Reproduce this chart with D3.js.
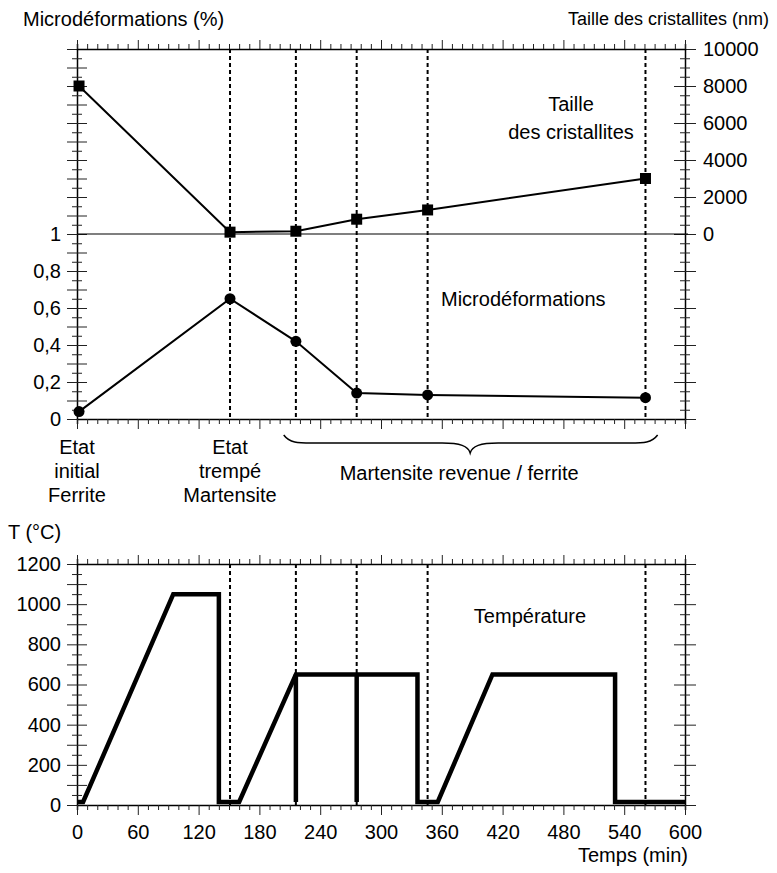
<!DOCTYPE html>
<html>
<head>
<meta charset="utf-8">
<script src="https://cdn.jsdelivr.net/npm/d3@7"></script>
<style>
  body { margin: 0; background: #fff; }
  text { font-family: "Liberation Sans", Arial, sans-serif; font-size: 20px; fill: #000; }
</style>
</head>
<body>
<div id="graph"></div>
<script>
// sample times (min) where the specimens were taken
const sampleTimes = [151, 216, 276, 346, 561]
const pointTimes = [2, 151, 216, 276, 346, 561]
const microStrain = [0.04, 0.65, 0.42, 0.14, 0.13, 0.115]
const crystalSize = [8000, 100, 150, 800, 1300, 3000]

// thermal cycle
const tempTimes = [0, 6, 95, 140, 140, 160, 216, 336, 336, 356, 410, 531, 531, 600]
const tempValues = [15, 15, 1050, 1050, 15, 15, 650, 650, 15, 15, 650, 650, 15, 15]
const tempBars = [216, 276]

const timeTicks = [0, 60, 120, 180, 240, 300, 360, 420, 480, 540, 600]
const microTicks = [0, 0.2, 0.4, 0.6, 0.8, 1]
const sizeTicks = [0, 2000, 4000, 6000, 8000, 10000]
const tempTicks = [0, 200, 400, 600, 800, 1000, 1200]

const stateInitial = ["Etat", "initial", "Ferrite"]
const stateQuenched = ["Etat", "trempé", "Martensite"]

const WIDTH = 777
const HEIGHT = 873

const svg = d3.select("#graph")
  .append("svg")
    .attr("width", WIDTH)
    .attr("height", HEIGHT)

const x = d3.scaleLinear().domain([0, 600]).range([77, 685])
const yMicro = d3.scaleLinear().domain([0, 2]).range([419, 49])
const ySize = d3.scaleLinear().domain([-10000, 10000]).range([419, 49])
const yTemp = d3.scaleLinear().domain([0, 1200]).range([805, 564])

const comma = (d) => String(+d.toFixed(2)).replace(".", ",")
const minor10 = d3.range(0, 61).map((i) => i * 10)

// styling shared by every axis
const styleAxis = (g) => {
  g.attr("color", "#222")
  g.select(".domain").attr("stroke", "#000").attr("stroke-width", 1.5)
  g.selectAll(".tick text").style("font-size", "20px").attr("fill", "#000")
}

// ---------- top panel ----------
const topPanel = svg.append("g")

// left axis: micro strain
topPanel.append("g")
    .attr("transform", `translate(${x(0)},0)`)
    .call(d3.axisLeft(yMicro)
      .tickValues(d3.range(0, 41).map((i) => i / 20))
      .tickFormat((d) => (microTicks.some((t) => Math.abs(t - d) < 1e-6) ? comma(d) : ""))
      .tickSize(0).tickSizeOuter(0).tickPadding(16))
    .call(styleAxis)
    .call((g) => g.selectAll(".tick line")
      .attr("x1", (d) => (Math.round(d * 20) % 2 === 0 ? -10 : -5))
      .attr("x2", (d) => (Math.round(d * 20) % 2 === 0 ? 10 : 5)))

// right axis: crystallite size
topPanel.append("g")
    .attr("transform", `translate(${x(600)},0)`)
    .call(d3.axisRight(ySize)
      .tickValues(d3.range(-20, 21).map((i) => i * 500))
      .tickFormat((d) => (sizeTicks.includes(d) ? d : ""))
      .tickSize(0).tickSizeOuter(0).tickPadding(18))
    .call(styleAxis)
    .call((g) => g.selectAll(".tick line")
      .attr("x1", (d) => (d % 2000 === 0 ? -11 : -5))
      .attr("x2", (d) => (d % 2000 === 0 ? 11 : 5)))

// time axes of the top panel (no labels)
topPanel.append("g")
    .attr("transform", `translate(0,${yMicro(0)})`)
    .call(d3.axisBottom(x).tickValues(minor10).tickFormat("").tickSizeOuter(0).tickSize(5))
    .call(styleAxis)
    .call((g) => g.selectAll(".tick line").attr("y2", (d) => (d % 60 === 0 ? 10 : 5)))

topPanel.append("g")
    .attr("transform", `translate(0,${yMicro(2)})`)
    .call(d3.axisTop(x).tickValues(minor10).tickFormat("").tickSizeOuter(0).tickSize(5))
    .call(styleAxis)
    .call((g) => g.selectAll(".tick line").attr("y2", (d) => (d % 60 === 0 ? -9 : -5)))

// separator line (1 on the left, 0 on the right)
topPanel.append("line")
    .attr("x1", x(0)).attr("x2", x(600) + 3)
    .attr("y1", yMicro(1)).attr("y2", yMicro(1))
    .attr("stroke", "#000").attr("stroke-width", 1.2)

topPanel.append("g")
    .selectAll("line")
    .data(sampleTimes)
    .join("line")
      .attr("x1", (d) => x(d)).attr("x2", (d) => x(d))
      .attr("y1", yMicro(2)).attr("y2", yMicro(0))
      .attr("stroke", "#000").attr("stroke-width", 2)
      .attr("stroke-dasharray", "4,3")

const sizeLine = d3.line().x((d, i) => x(pointTimes[i])).y((d) => ySize(d))
topPanel.append("path")
    .attr("d", sizeLine(crystalSize))
    .attr("fill", "none").attr("stroke", "#000").attr("stroke-width", 2)

topPanel.append("g")
    .selectAll("rect")
    .data(crystalSize)
    .join("rect")
      .attr("x", (d, i) => x(pointTimes[i]) - 5.5)
      .attr("y", (d) => ySize(d) - 5.5)
      .attr("width", 11).attr("height", 11)
      .attr("fill", "#000")

const microLine = d3.line().x((d, i) => x(pointTimes[i])).y((d) => yMicro(d))
topPanel.append("path")
    .attr("d", microLine(microStrain))
    .attr("fill", "none").attr("stroke", "#000").attr("stroke-width", 2)

topPanel.append("g")
    .selectAll("circle")
    .data(microStrain)
    .join("circle")
      .attr("cx", (d, i) => x(pointTimes[i]))
      .attr("cy", (d) => yMicro(d))
      .attr("r", 5.5)
      .attr("fill", "#000")

topPanel.append("text").attr("x", 23).attr("y", 26).text("Microdéformations (%)")
topPanel.append("text").attr("x", 769).attr("y", 25).attr("text-anchor", "end")
    .style("font-size", "18px").text("Taille des cristallites (nm)")
topPanel.append("text").attr("x", 571).attr("y", 111).attr("text-anchor", "middle").text("Taille")
topPanel.append("text").attr("x", 571).attr("y", 139).attr("text-anchor", "middle").text("des cristallites")
topPanel.append("text").attr("x", 441).attr("y", 306).text("Microdéformations")

// state labels under the top panel
const stateLabel = (lines, t) => {
  topPanel.append("g")
    .selectAll("text")
    .data(lines)
    .join("text")
      .attr("x", x(t))
      .attr("y", (d, i) => 454 + i * 24)
      .attr("text-anchor", "middle")
      .text((d) => d)
}
stateLabel(stateInitial, 0)
stateLabel(stateQuenched, sampleTimes[0])

// brace over the tempered samples
const bx0 = x(204), bxm = x(388), bx1 = x(573)
topPanel.append("path")
    .attr("d", `M${bx0},435 C${bx0 + 6},443 ${bx0 + 14},443 ${bx0 + 28},443 L${bxm - 28},443
      C${bxm - 10},443 ${bxm - 2},446 ${bxm},453 C${bxm + 2},446 ${bxm + 10},443 ${bxm + 28},443
      L${bx1 - 28},443 C${bx1 - 14},443 ${bx1 - 6},443 ${bx1},435`)
    .attr("fill", "none").attr("stroke", "#000").attr("stroke-width", 1.5)
topPanel.append("text").attr("x", bxm - 11).attr("y", 480).attr("text-anchor", "middle")
    .text("Martensite revenue / ferrite")

// ---------- bottom panel ----------
const bottomPanel = svg.append("g")

bottomPanel.append("g")
    .attr("transform", `translate(${x(0)},0)`)
    .call(d3.axisLeft(yTemp)
      .tickValues(d3.range(0, 25).map((i) => i * 50))
      .tickFormat((d) => (tempTicks.includes(d) ? d : ""))
      .tickSize(0).tickSizeOuter(0).tickPadding(16))
    .call(styleAxis)
    .call((g) => g.selectAll(".tick line")
      .attr("x1", (d) => (d % 100 === 0 ? -10 : -5))
      .attr("x2", (d) => (d % 100 === 0 ? 10 : 5)))

bottomPanel.append("g")
    .attr("transform", `translate(${x(600)},0)`)
    .call(d3.axisRight(yTemp)
      .tickValues(d3.range(0, 25).map((i) => i * 50))
      .tickFormat("")
      .tickSize(0).tickSizeOuter(0))
    .call(styleAxis)
    .call((g) => g.selectAll(".tick line")
      .attr("x1", (d) => (d % 200 === 0 ? -11 : -5))
      .attr("x2", (d) => (d % 200 === 0 ? 11 : 5)))

bottomPanel.append("g")
    .attr("transform", `translate(0,${yTemp(0)})`)
    .call(d3.axisBottom(x).tickValues(minor10)
      .tickFormat((d) => (timeTicks.includes(d) ? d : ""))
      .tickSizeOuter(0).tickSize(5).tickPadding(15))
    .call(styleAxis)
    .call((g) => g.selectAll(".tick line").attr("y2", (d) => (d % 60 === 0 ? 10 : 5)))

bottomPanel.append("g")
    .attr("transform", `translate(0,${yTemp(1200)})`)
    .call(d3.axisTop(x).tickValues(minor10).tickFormat("").tickSizeOuter(0).tickSize(5))
    .call(styleAxis)
    .call((g) => g.selectAll(".tick line").attr("y2", (d) => (d % 60 === 0 ? -9 : -5)))

bottomPanel.append("g")
    .selectAll("line")
    .data(sampleTimes)
    .join("line")
      .attr("x1", (d) => x(d)).attr("x2", (d) => x(d))
      .attr("y1", yTemp(1200)).attr("y2", yTemp(0))
      .attr("stroke", "#000").attr("stroke-width", 2)
      .attr("stroke-dasharray", "4,3")

const tempLine = d3.line().x((d, i) => x(tempTimes[i])).y((d) => yTemp(d))
bottomPanel.append("path")
    .attr("d", tempLine(tempValues))
    .attr("fill", "none").attr("stroke", "#000").attr("stroke-width", 4.5)
    .attr("stroke-linejoin", "miter")

bottomPanel.append("g")
    .selectAll("line")
    .data(tempBars)
    .join("line")
      .attr("x1", (d) => x(d)).attr("x2", (d) => x(d))
      .attr("y1", yTemp(15)).attr("y2", yTemp(650))
      .attr("stroke", "#000").attr("stroke-width", 4.5)

bottomPanel.append("text").attr("x", 8).attr("y", 539).text("T (°C)")
bottomPanel.append("text").attr("x", 530).attr("y", 623).attr("text-anchor", "middle").text("Température")
bottomPanel.append("text").attr("x", 688).attr("y", 862).attr("text-anchor", "end").text("Temps (min)")
</script>
</body>
</html>
